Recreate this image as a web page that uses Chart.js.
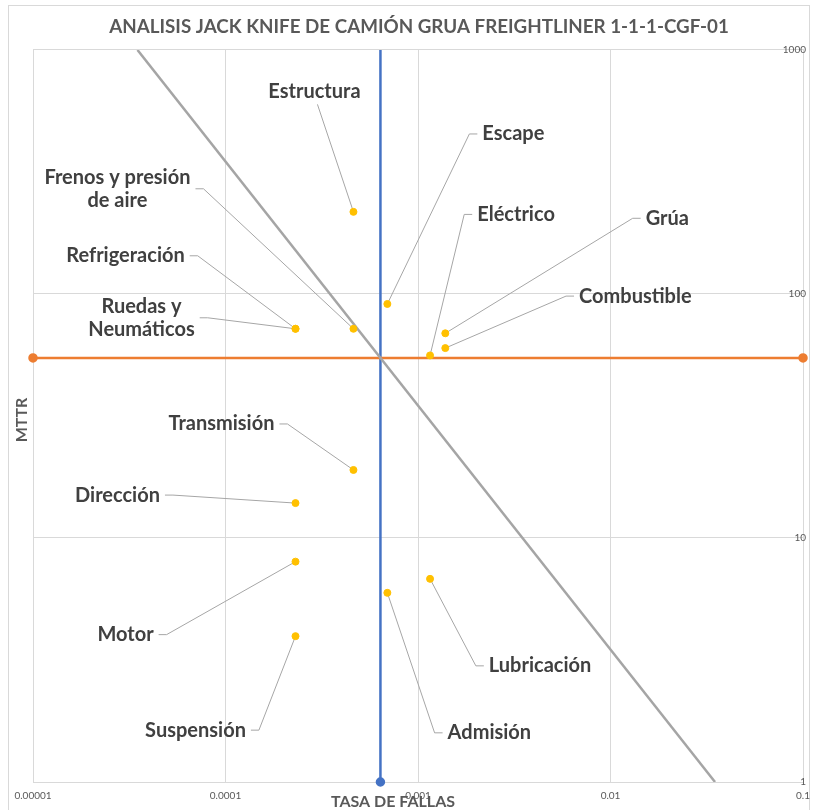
<!DOCTYPE html>
<html>
<head>
<meta charset="utf-8">
<script src="https://cdn.jsdelivr.net/npm/chart.js@4.4.1/dist/chart.umd.min.js"></script>
<style>
  html, body { margin: 0; padding: 0; background: #fff; }
  #wrap { position: relative; width: 818px; height: 810px; }
</style>
</head>
<body>
<div id="wrap"><canvas id="chart" width="818" height="810"></canvas></div>
<script>
// Jack Knife data
const components = ['Estructura', 'Escape', 'Frenos y presión de aire', 'Refrigeración', 'Ruedas y Neumáticos',
  'Eléctrico', 'Grúa', 'Combustible', 'Transmisión', 'Dirección', 'Motor', 'Suspensión', 'Admisión', 'Lubricación'];
const failureRate = [0.000462, 0.000693, 0.000462, 0.000231, 0.000231,
  0.001155, 0.001386, 0.001386, 0.000462, 0.000231, 0.000231, 0.000231, 0.000693, 0.001155];
const mttr = [217, 91, 72, 72, 72, 56, 69, 60, 19, 13.9, 8.0, 3.96, 5.96, 6.8];

// limits (averages) and iso-downtime line
const rateLimit = 0.000638;
const mttrLimit = 54.7;
const isoRate = [0.0000349, 0.0349];
const isoMttr = [1000, 1];

const xTicks = [0.00001, 0.0001, 0.001, 0.01, 0.1];
const xTickLabels = ['0.00001', '0.0001', '0.001', '0.01', '0.1'];
const yTicks = [1, 10, 100, 1000];
const yTickLabels = ['1', '10', '100', '1000'];

// where each label sits, px offset from its point
const labelOffsets = [[-39, -120], [126, -170], [-236, -140], [-170, -73], [-154, -11],
  [86, -141], [222, -115], [190, -52], [-132, -46], [-178, -8], [-170, 73], [-100, 94], [102, 140], [110, 87]];

const labelFont = 'bold 20px Lato';
const labelLineH = 23;

function wrapText(ctx, text, maxW) {
  const words = text.split(' ');
  const lines = [];
  let cur = '';
  words.forEach(w => {
    const t = cur ? cur + ' ' + w : w;
    if (cur && ctx.measureText(t).width > maxW) { lines.push(cur); cur = w; }
    else cur = t;
  });
  lines.push(cur);
  return lines;
}

const leaderLabels = {
  id: 'leaderLabels',
  beforeDatasetsDraw(chart) {
    const {ctx, scales: {x, y}} = chart;
    ctx.save();
    ctx.font = labelFont;
    ctx.strokeStyle = '#a6a6a6';
    ctx.lineWidth = 1;
    components.forEach((name, i) => {
      const px = x.getPixelForValue(failureRate[i]);
      const py = y.getPixelForValue(mttr[i]);
      const [dx, dy] = labelOffsets[i];
      const cx = px + dx, cy = py + dy;
      const lines = wrapText(ctx, name, 160);
      const w = Math.max(...lines.map(l => ctx.measureText(l).width));
      const h = lines.length * labelLineH;
      const hw = w / 2 + 5, hh = h / 2 + 1;
      ctx.beginPath();
      if (Math.abs(dx) < hw) {
        ctx.moveTo(px, py);
        ctx.lineTo(cx + 3, dy < 0 ? cy + hh : cy - hh);
      } else {
        const side = dx > 0 ? -1 : 1;
        const ex = cx + side * hw;
        ctx.moveTo(px, py);
        ctx.lineTo(ex + side * 8, cy);
        ctx.lineTo(ex, cy);
      }
      ctx.stroke();
    });
    ctx.restore();
  },
  afterDraw(chart) {
    const {ctx, scales: {x, y}} = chart;
    ctx.save();
    ctx.font = labelFont;
    ctx.fillStyle = '#404040';
    ctx.textAlign = 'center';
    ctx.textBaseline = 'middle';
    components.forEach((name, i) => {
      const px = x.getPixelForValue(failureRate[i]);
      const py = y.getPixelForValue(mttr[i]);
      const [dx, dy] = labelOffsets[i];
      const lines = wrapText(ctx, name, 160);
      const top = py + dy - (lines.length - 1) * labelLineH / 2;
      lines.forEach((l, k) => ctx.fillText(l, px + dx, top + k * labelLineH));
    });

    // axis titles
    ctx.fillStyle = '#595959';
    ctx.font = 'bold 16px Lato';
    ctx.fillText('TASA DE FALLAS', (chart.chartArea.left + chart.chartArea.right) / 2 - 25, 802);
    ctx.translate(22, 420);
    ctx.rotate(-Math.PI / 2);
    ctx.fillText('MTTR', 0, 0);
    ctx.restore();
  },
  beforeDraw(chart) {
    const {ctx} = chart;
    ctx.save();
    ctx.strokeStyle = '#d9d9d9';
    ctx.lineWidth = 1;
    ctx.strokeRect(8.5, 5.5, 801, 900);
    ctx.restore();
  }
};

const tickFont = {family: 'Lato', size: 10};

new Chart(document.getElementById('chart'), {
  type: 'scatter',
  data: {
    datasets: [
      {
        label: 'Componentes',
        data: failureRate.map((r, i) => ({x: r, y: mttr[i]})),
        backgroundColor: '#FFC000',
        borderColor: '#FFC000',
        pointRadius: 3.5,
        order: 0
      },
      {
        label: 'Límite MTTR',
        data: [{x: xTicks[0], y: mttrLimit}, {x: xTicks[xTicks.length - 1], y: mttrLimit}],
        showLine: true,
        borderColor: '#ED7D31',
        backgroundColor: '#ED7D31',
        borderWidth: 2.5,
        pointRadius: 3.5,
        clip: false,
        order: 2
      },
      {
        label: 'Límite tasa de fallas',
        data: [{x: rateLimit, y: yTicks[0]}, {x: rateLimit, y: yTicks[yTicks.length - 1]}],
        showLine: true,
        borderColor: '#4472C4',
        backgroundColor: '#4472C4',
        borderWidth: 2.5,
        pointRadius: [3.5, 0],
        clip: false,
        order: 3
      },
      {
        label: 'Indisponibilidad',
        data: isoRate.map((r, i) => ({x: r, y: isoMttr[i]})),
        showLine: true,
        borderColor: '#A5A5A5',
        borderWidth: 2.5,
        pointRadius: 0,
        order: 1
      }
    ]
  },
  options: {
    responsive: false,
    animation: false,
    layout: {padding: {left: 33, right: 13, top: 0, bottom: 0}},
    plugins: {
      legend: {display: false},
      tooltip: {enabled: false},
      title: {
        display: true,
        text: 'ANALISIS JACK KNIFE DE CAMIÓN GRUA FREIGHTLINER 1-1-1-CGF-01',
        color: '#595959',
        font: {family: 'Lato', size: 18.8, weight: 'bold'},
        padding: {top: 16, bottom: 11.4}
      }
    },
    scales: {
      x: {
        type: 'logarithmic',
        min: xTicks[0],
        max: xTicks[xTicks.length - 1],
        afterBuildTicks: s => { s.ticks = xTicks.map(v => ({value: v})); },
        afterFit: s => { s.height = 28; },
        grid: {color: '#d9d9d9', drawTicks: false},
        border: {color: '#d9d9d9'},
        ticks: {
          font: tickFont,
          color: '#595959',
          padding: 8,
          autoSkip: false,
          maxRotation: 0,
          callback: v => xTickLabels[xTicks.indexOf(v)]
        }
      },
      y: {
        type: 'logarithmic',
        position: 'right',
        min: yTicks[0],
        max: yTicks[yTicks.length - 1],
        afterBuildTicks: s => { s.ticks = yTicks.map(v => ({value: v})); },
        afterFit: s => { s.width = 0; },
        grid: {color: '#d9d9d9', drawTicks: false},
        border: {color: '#d9d9d9'},
        ticks: {
          font: tickFont,
          color: '#595959',
          mirror: true,
          padding: 3,
          autoSkip: false,
          callback: v => yTickLabels[yTicks.indexOf(v)]
        }
      }
    }
  },
  plugins: [leaderLabels]
});
</script>
</body>
</html>
